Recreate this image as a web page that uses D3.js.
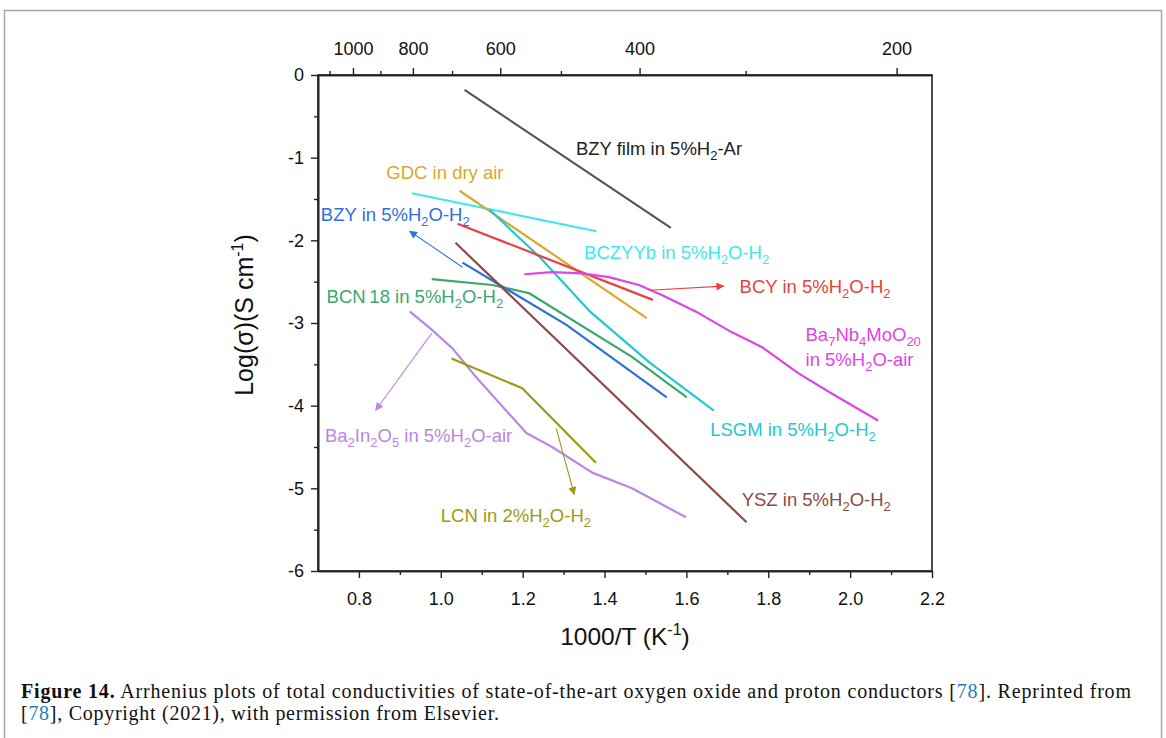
<!DOCTYPE html>
<html><head><meta charset="utf-8">
<script src="https://cdn.jsdelivr.net/npm/d3@7"></script>
<style>body{margin:0;background:#fff;} svg{display:block}</style>
</head><body><svg id="c" width="1166" height="738"></svg>
<script>
// ---------- data (1000/T in K^-1, log sigma) ----------
const bzyFilmX = [1.058, 1.562];
const bzyFilmY = [-0.18, -1.85];
const gdcX = [1.046, 1.503];
const gdcY = [-1.40, -2.94];
const bczyybX = [0.929, 1.380];
const bczyybY = [-1.43, -1.89];
const lsgmX = [1.119, 1.241, 1.362, 1.508, 1.667];
const lsgmY = [-1.63, -2.20, -2.85, -3.47, -4.06];
const bcyX = [1.041, 1.518];
const bcyY = [-1.80, -2.72];
const bnmX = [1.204, 1.272, 1.345, 1.411, 1.484, 1.540, 1.630, 1.710, 1.784, 1.874, 1.954, 2.068];
const bnmY = [-2.41, -2.385, -2.40, -2.445, -2.54, -2.66, -2.88, -3.11, -3.29, -3.61, -3.85, -4.18];
const bzyX = [1.053, 1.306, 1.552];
const bzyY = [-2.27, -3.02, -3.90];
const bcnX = [0.978, 1.126, 1.216, 1.467, 1.601];
const bcnY = [-2.47, -2.54, -2.64, -3.41, -3.90];
const yszX = [1.036, 1.747];
const yszY = [-2.03, -5.41];
const bioX = [0.924, 0.980, 1.029, 1.087, 1.209, 1.272, 1.370, 1.467, 1.599];
const bioY = [-2.86, -3.09, -3.31, -3.66, -4.33, -4.50, -4.81, -5.00, -5.35];
const lcnX = [1.026, 1.199, 1.379];
const lcnY = [-3.43, -3.79, -4.69];

const xTicks = [0.8, 1.0, 1.2, 1.4, 1.6, 1.8, 2.0, 2.2];
const xMinor = [0.9, 1.1, 1.3, 1.5, 1.7, 1.9, 2.1];
const yTicks = [0, -1, -2, -3, -4, -5, -6];
const yMinor = [-0.5, -1.5, -2.5, -3.5, -4.5, -5.5];
const tempTicks = [1000, 800, 600, 400, 200];       // deg C
const tempMinor = [1100, 900, 700, 500, 300];

// ---------- series styling ----------
const series = [
  {x: bzyFilmX, y: bzyFilmY, color: "#555555"},
  {x: bczyybX, y: bczyybY, color: "#3ee8ec"},
  {x: gdcX, y: gdcY, color: "#d8a92c"},
  {x: lsgmX, y: lsgmY, color: "#22c8d0"},
  {x: bcyX, y: bcyY, color: "#e8413f"},
  {x: bnmX, y: bnmY, color: "#de45e6"},
  {x: bcnX, y: bcnY, color: "#3aa86c"},
  {x: bzyX, y: bzyY, color: "#2f6fdc"},
  {x: yszX, y: yszY, color: "#8a4c48"},
  {x: bioX, y: bioY, color: "#bb86e2"},
  {x: lcnX, y: lcnY, color: "#9b9b12"}
];

// labels placed in data coordinates
const labels = [
  {t: "BZY film in 5%H_2-Ar", x: 1.330, y: -0.97, color: "#222222"},
  {t: "GDC in dry air", x: 0.867, y: -1.26, color: "#d8a92c"},
  {t: "BZY in 5%H_2O-H_2", x: 0.707, y: -1.77, color: "#2f6fdc"},
  {t: "BCZYYb in 5%H_2O-H_2", x: 1.350, y: -2.23, color: "#3ee8ec"},
  {t: "BCY in 5%H_2O-H_2", x: 1.730, y: -2.64, color: "#e8413f"},
  {t: "BCN\u200918 in 5%H_2O-H_2", x: 0.721, y: -2.76, color: "#3aa86c"},
  {t: "Ba_7Nb_4MoO_20", x: 1.891, y: -3.22, color: "#de45e6"},
  {t: "in 5%H_2O-air", x: 1.891, y: -3.52, color: "#de45e6"},
  {t: "Ba_2In_2O_5 in 5%H_2O-air", x: 0.717, y: -4.44, color: "#bb86e2"},
  {t: "LSGM in 5%H_2O-H_2", x: 1.658, y: -4.37, color: "#22c8d0"},
  {t: "LCN in 2%H_2O-H_2", x: 1.000, y: -5.41, color: "#9b9b12"},
  {t: "YSZ in 5%H_2O-H_2", x: 1.735, y: -5.21, color: "#8a4c48"}
];
const arrows = [
  {x1: 1.053, y1: -2.325, x2: 0.924, y2: -1.889, color: "#2f6fdc"},
  {x1: 1.508, y1: -2.603, x2: 1.691, y2: -2.554, color: "#e8413f"},
  {x1: 0.978, y1: -3.123, x2: 0.841, y2: -4.056, color: "#bb86e2"},
  {x1: 1.282, y1: -4.274, x2: 1.326, y2: -5.073, color: "#9b9b12"}
];

// ---------- layout ----------
const svg = d3.select("#c");
const L = 318, R = 932, T = 75, B = 571;
const x = d3.scaleLinear().domain([0.7, 2.2]).range([L, R]);
const y = d3.scaleLinear().domain([-6, 0]).range([B, T]);
const font = "Liberation Sans, Arial, sans-serif";

svg.append("rect").attr("x", 4.5).attr("y", 10.5).attr("width", 1157).attr("height", 760)
  .attr("fill", "none").attr("stroke", "#a8a8a8").attr("stroke-width", 1.5);

// frame
svg.append("rect").attr("x", L).attr("y", T).attr("width", R - L).attr("height", B - T)
  .attr("fill", "none").attr("stroke", "#222").attr("stroke-width", 1.6);

function styleAxis(g, size) {
  g.select(".domain").attr("stroke", "#222").attr("stroke-width", 1.6);
  g.selectAll(".tick line").attr("stroke", "#222").attr("stroke-width", 1.4);
  g.selectAll(".tick text").attr("font-family", font).attr("font-size", size).attr("fill", "#111");
}

// bottom axis
const gxb = svg.append("g").attr("transform", `translate(0,${B})`)
  .call(d3.axisBottom(x).tickValues(xTicks).tickFormat(d3.format(".1f")).tickSize(7).tickSizeOuter(0).tickPadding(14));
styleAxis(gxb, 18);
svg.append("g").attr("transform", `translate(0,${B})`)
  .call(d3.axisBottom(x).tickValues(xMinor).tickFormat("").tickSize(4).tickSizeOuter(0))
  .call(g => styleAxis(g, 18));

// left axis
const gyl = svg.append("g").attr("transform", `translate(${L},0)`)
  .call(d3.axisLeft(y).tickValues(yTicks).tickFormat(d3.format("d")).tickSize(7).tickSizeOuter(0).tickPadding(7));
styleAxis(gyl, 18);
gyl.selectAll(".tick text").text(d => d === 0 ? "0" : "-" + Math.abs(d));
svg.append("g").attr("transform", `translate(${L},0)`)
  .call(d3.axisLeft(y).tickValues(yMinor).tickFormat("").tickSize(4).tickSizeOuter(0))
  .call(g => styleAxis(g, 18));

// top axis (temperature, deg C)
const inv = t => 1000 / (t + 273.15);
const gxt = svg.append("g").attr("transform", `translate(0,${T})`)
  .call(d3.axisTop(x).tickValues(tempTicks.map(inv)).tickFormat((d, i) => tempTicks[i]).tickSize(7).tickSizeOuter(0).tickPadding(13));
styleAxis(gxt, 18);
svg.append("g").attr("transform", `translate(0,${T})`)
  .call(d3.axisTop(x).tickValues(tempMinor.map(inv)).tickFormat("").tickSize(4).tickSizeOuter(0))
  .call(g => styleAxis(g, 18));

// axis titles
const xt = svg.append("text").attr("x", (L + R) / 2).attr("y", 645).attr("text-anchor", "middle")
  .attr("font-family", font).attr("font-size", 24.5).attr("fill", "#111");
xt.append("tspan").text("1000/T (K");
xt.append("tspan").attr("dy", -10).attr("font-size", 16).text("-1");
xt.append("tspan").attr("dy", 10).text(")");

const yt = svg.append("text").attr("transform", `translate(253,315) rotate(-90)`)
  .attr("text-anchor", "middle").attr("font-family", font).attr("font-size", 25).attr("fill", "#111");
yt.append("tspan").text("Log(σ)(S cm");
yt.append("tspan").attr("dy", -10).attr("font-size", 16).text("-1");
yt.append("tspan").attr("dy", 10).text(")");

// series lines
const line = d3.line().x(d => x(d[0])).y(d => y(d[1]));
const plot = svg.append("g");
series.forEach(s => {
  plot.append("path").datum(d3.zip(s.x, s.y)).attr("d", line)
    .attr("fill", "none").attr("stroke", s.color).attr("stroke-width", 2.2)
    .attr("stroke-linejoin", "round");
});

// arrows
const defs = svg.append("defs");
arrows.forEach((a, i) => {
  defs.append("marker").attr("id", "ah" + i).attr("viewBox", "0 0 10 10").attr("refX", 9).attr("refY", 5)
    .attr("markerWidth", 12).attr("markerHeight", 8).attr("markerUnits", "userSpaceOnUse").attr("orient", "auto")
    .append("path").attr("d", "M0,0 L10,5 L0,10 z").attr("fill", a.color);
  plot.append("line").attr("x1", x(a.x1)).attr("y1", y(a.y1)).attr("x2", x(a.x2)).attr("y2", y(a.y2))
    .attr("stroke", a.color).attr("stroke-width", 1.1).attr("marker-end", `url(#ah${i})`);
});

// labels with subscripts
labels.forEach(l => {
  const t = plot.append("text").attr("x", x(l.x)).attr("y", y(l.y))
    .attr("font-family", font).attr("font-size", 18.5).attr("fill", l.color);
  const parts = l.t.split(/(_\d+)/).filter(p => p.length);
  let sub = false;
  parts.forEach(p => {
    if (p.startsWith("_")) {
      t.append("tspan").attr("dy", sub ? 0 : 5).attr("font-size", 13).text(p.slice(1));
      sub = true;
    } else {
      t.append("tspan").attr("dy", sub ? -5 : 0).text(p);
      sub = false;
    }
  });
});

// caption
const serif = "Liberation Serif, Times New Roman, serif";
const cap = svg.append("text").attr("x", 21).attr("y", 698)
  .attr("font-family", serif).attr("font-size", 20).attr("fill", "#111")
  .attr("textLength", 1110).attr("lengthAdjust", "spacing");
cap.append("tspan").attr("font-weight", "bold").text("Figure 14.");
cap.append("tspan").text(" Arrhenius plots of total conductivities of state-of-the-art oxygen oxide and proton conductors [");
cap.append("tspan").attr("fill", "#1f80c0").text("78");
cap.append("tspan").text("]. Reprinted from");
const cap2 = svg.append("text").attr("x", 21).attr("y", 720)
  .attr("font-family", serif).attr("font-size", 20).attr("fill", "#111")
  .attr("textLength", 478).attr("lengthAdjust", "spacing");
cap2.append("tspan").text("[");
cap2.append("tspan").attr("fill", "#1f80c0").text("78");
cap2.append("tspan").text("], Copyright (2021), with permission from Elsevier.");
</script>
</body></html>
